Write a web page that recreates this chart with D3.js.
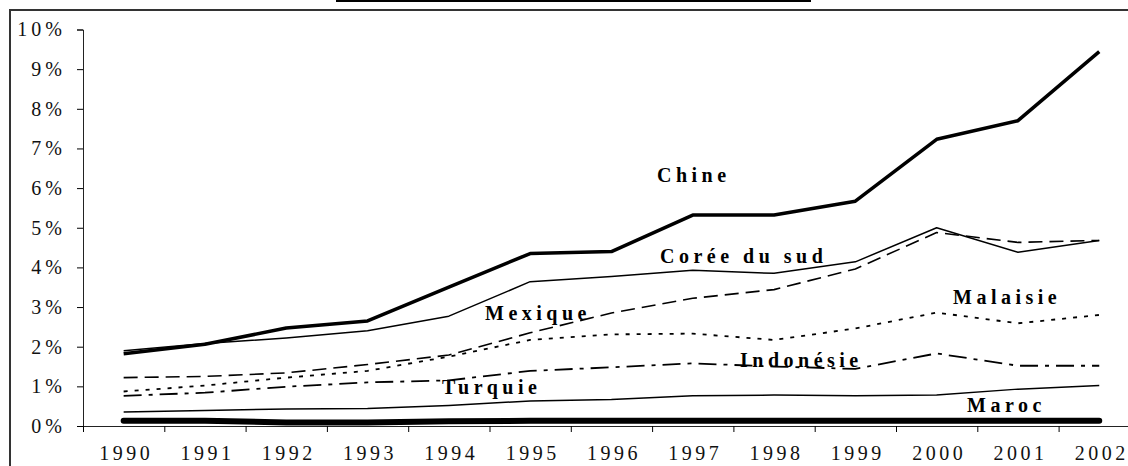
<!DOCTYPE html>
<html>
<head>
<meta charset="utf-8">
<script src="https://cdn.jsdelivr.net/npm/d3@7"></script>
<style>
  body { margin: 0; background: #fff; }
  svg { display: block; }
</style>
</head>
<body>
<div id="chart"></div>
<script>
var W = 1128, H = 466;
var FONT = "'Liberation Serif', 'Times New Roman', serif";
var margin = {top: 29.5, left: 83, bottom: 40};

// Data (share, in %)
var years = ["1990","1991","1992","1993","1994","1995","1996","1997","1998","1999","2000","2001","2002"];
var chine     = [1.82, 2.06, 2.47, 2.65, 3.50, 4.35, 4.40, 5.32, 5.32, 5.67, 7.23, 7.70, 9.44];
var coree     = [1.90, 2.08, 2.22, 2.40, 2.77, 3.64, 3.77, 3.93, 3.85, 4.14, 5.00, 4.38, 4.68];
var mexique   = [1.22, 1.25, 1.34, 1.55, 1.79, 2.35, 2.85, 3.22, 3.44, 3.96, 4.88, 4.63, 4.68];
var malaisie  = [0.87, 1.02, 1.22, 1.39, 1.75, 2.17, 2.31, 2.33, 2.17, 2.46, 2.86, 2.59, 2.80];
var indonesie = [0.76, 0.84, 0.99, 1.10, 1.15, 1.39, 1.48, 1.58, 1.50, 1.44, 1.83, 1.52, 1.52];
var turquie   = [0.35, 0.39, 0.43, 0.44, 0.52, 0.63, 0.67, 0.76, 0.78, 0.76, 0.78, 0.93, 1.02];
var maroc     = [0.13, 0.13, 0.09, 0.09, 0.12, 0.13, 0.13, 0.13, 0.13, 0.13, 0.13, 0.13, 0.13];
var yTicks = [0,1,2,3,4,5,6,7,8,9,10];

var series = [
  {name: "Chine",        values: chine,     width: 3.5, dash: null,         lx: 657, ly: 182},
  {name: "Corée du sud", values: coree,     width: 1.5, dash: null,         lx: 660, ly: 263},
  {name: "Mexique",      values: mexique,   width: 1.6, dash: "14,7",       lx: 485, ly: 320},
  {name: "Malaisie",     values: malaisie,  width: 1.8, dash: "4,7",        lx: 953, ly: 304},
  {name: "Indonésie",    values: indonesie, width: 1.8, dash: "18,7,4,7",   lx: 740, ly: 367},
  {name: "Turquie",      values: turquie,   width: 1.5, dash: null,         lx: 442, ly: 394},
  {name: "Maroc",        values: maroc,     width: 6,   dash: null,         lx: 967, ly: 412}
];

var svg = d3.select("#chart").append("svg")
    .attr("width", W)
    .attr("height", H);

// outer frame + clipped title box
svg.append("path")
    .attr("d", "M10,466 V10 H1140")
    .attr("fill", "none")
    .attr("stroke", "#333")
    .attr("stroke-width", 2);
svg.append("rect")
    .attr("x", 337).attr("y", -30)
    .attr("width", 473).attr("height", 31)
    .attr("fill", "none")
    .attr("stroke", "#000")
    .attr("stroke-width", 2);

var step = 81.3;
var xBand = d3.scaleBand()
    .domain(years)
    .range([margin.left, margin.left + step * years.length]);

var y = d3.scaleLinear()
    .domain([0, 10])
    .range([426, margin.top]);

// y axis
var yAxis = svg.append("g")
    .attr("transform", `translate(${margin.left},0)`)
    .call(d3.axisLeft(y).tickValues(yTicks).tickSize(6).tickPadding(11)
        .tickFormat(d => d + "%"));
yAxis.attr("font-family", FONT);
yAxis.selectAll("text")
    .attr("font-family", FONT)
    .attr("font-size", "20px")
    .attr("letter-spacing", "4px")
    .attr("fill", "#111");

// x axis (labels centered in bands, ticks on boundaries)
var xAxis = svg.append("g")
    .attr("transform", `translate(0,${y(0)})`)
    .call(d3.axisBottom(xBand).tickSize(0).tickPadding(20));
xAxis.attr("font-family", FONT);
xAxis.select(".domain").attr("d", `M${margin.left},0.5H1140`);
xAxis.selectAll("text")
    .attr("font-family", FONT)
    .attr("font-size", "20px")
    .attr("letter-spacing", "3.5px")
    .attr("dx", "2.5px")
    .attr("fill", "#111");
svg.append("g")
    .selectAll("line")
    .data(years)
    .join("line")
    .attr("x1", d => xBand(d) + 0.5)
    .attr("x2", d => xBand(d) + 0.5)
    .attr("y1", y(0))
    .attr("y2", y(0) + 6)
    .attr("stroke", "#000");
svg.selectAll(".domain").attr("stroke", "#222");

// lines
var line = d3.line()
    .x((d, i) => xBand(years[i]) + xBand.bandwidth() / 2)
    .y(d => y(d));

svg.append("g")
    .selectAll("path")
    .data(series)
    .join("path")
    .attr("d", d => line(d.values))
    .attr("fill", "none")
    .attr("stroke", "#000")
    .attr("stroke-width", d => d.width)
    .attr("stroke-dasharray", d => d.dash)
    .attr("stroke-linecap", d => d.width > 5 ? "round" : "butt")
    .attr("stroke-linejoin", "round");

// series labels
svg.append("g")
    .selectAll("text")
    .data(series)
    .join("text")
    .attr("x", d => d.lx)
    .attr("y", d => d.ly)
    .attr("font-family", FONT)
    .attr("font-size", "20px")
    .attr("font-weight", "bold")
    .attr("letter-spacing", "4.5px")
    .attr("fill", "#000")
    .text(d => d.name);
</script>
</body>
</html>
